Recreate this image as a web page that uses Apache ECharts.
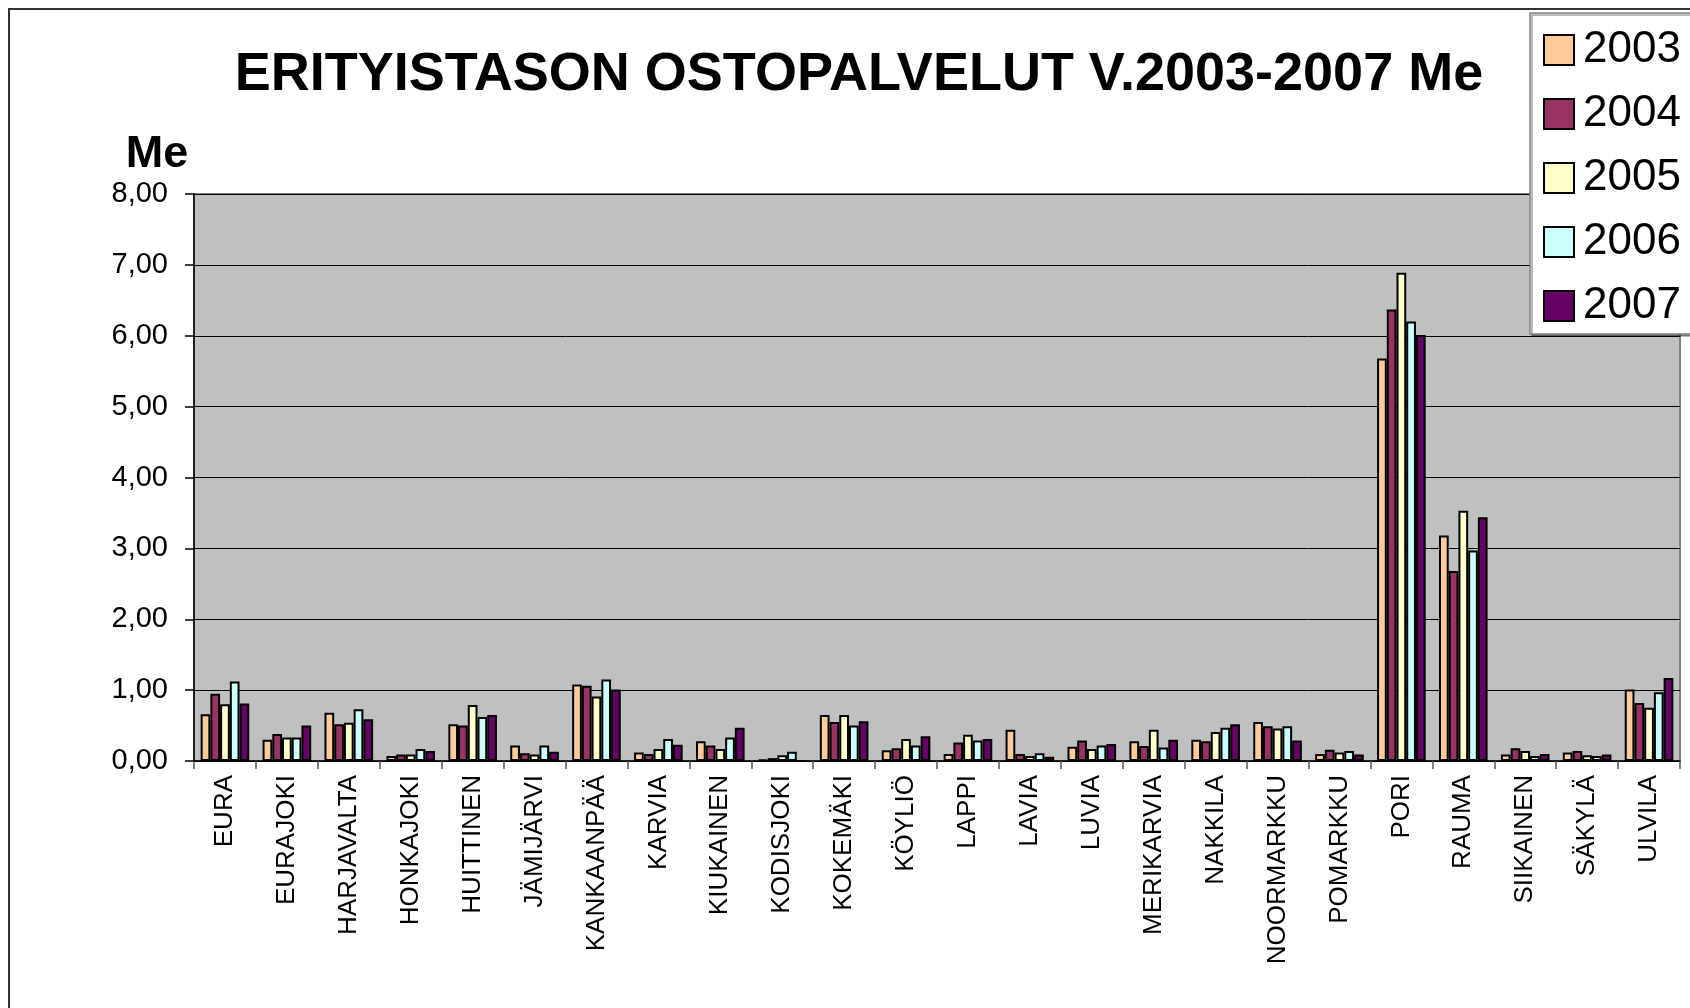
<!DOCTYPE html>
<html>
<head>
<meta charset="utf-8">
<script src="https://cdn.jsdelivr.net/npm/echarts@6/dist/echarts.min.js"></script>
<style>
  html, body { margin: 0; padding: 0; background: #fff; }
  #chart { width: 1690px; height: 1008px; }
</style>
</head>
<body>
<div id="chart"></div>
<script>
// Municipalities (x axis)
const municipalities = [
  'EURA', 'EURAJOKI', 'HARJAVALTA', 'HONKAJOKI', 'HUITTINEN', 'JÄMIJÄRVI',
  'KANKAANPÄÄ', 'KARVIA', 'KIUKAINEN', 'KODISJOKI', 'KOKEMÄKI', 'KÖYLIÖ',
  'LAPPI', 'LAVIA', 'LUVIA', 'MERIKARVIA', 'NAKKILA', 'NOORMARKKU',
  'POMARKKU', 'PORI', 'RAUMA', 'SIIKAINEN', 'SÄKYLÄ', 'ULVILA'
];

// Purchased specialist-level services, million euros per year
const years = ['2003', '2004', '2005', '2006', '2007'];
const v2003 = [0.66, 0.30, 0.68, 0.07, 0.52, 0.22, 1.08, 0.12, 0.28, 0.02, 0.65, 0.15, 0.10, 0.44, 0.20, 0.28, 0.30, 0.55, 0.10, 5.68, 3.18, 0.09, 0.12, 1.01];
const v2004 = [0.95, 0.38, 0.52, 0.09, 0.50, 0.11, 1.06, 0.10, 0.22, 0.04, 0.55, 0.18, 0.26, 0.10, 0.29, 0.21, 0.28, 0.49, 0.16, 6.37, 2.68, 0.18, 0.14, 0.82];
const v2005 = [0.80, 0.33, 0.54, 0.09, 0.79, 0.09, 0.91, 0.17, 0.17, 0.08, 0.65, 0.31, 0.37, 0.07, 0.17, 0.44, 0.41, 0.46, 0.12, 6.89, 3.53, 0.14, 0.08, 0.75];
const v2006 = [1.12, 0.33, 0.73, 0.17, 0.62, 0.22, 1.15, 0.31, 0.33, 0.13, 0.50, 0.22, 0.29, 0.11, 0.22, 0.19, 0.47, 0.49, 0.14, 6.20, 2.97, 0.07, 0.07, 0.97];
const v2007 = [0.81, 0.50, 0.59, 0.14, 0.65, 0.13, 1.01, 0.23, 0.47, 0.00, 0.56, 0.35, 0.31, 0.06, 0.24, 0.30, 0.52, 0.29, 0.09, 6.01, 3.44, 0.10, 0.09, 1.17];
const seriesValues = [v2003, v2004, v2005, v2006, v2007];
const seriesColors = ['#FFCC99', '#993366', '#FFFFCC', '#CCFFFF', '#660066'];

const FONT = '"Liberation Sans", Arial, sans-serif';

const chart = echarts.init(document.getElementById('chart'), null, { renderer: 'canvas' });

chart.setOption({
  animation: false,
  backgroundColor: '#ffffff',
  textStyle: { fontFamily: FONT, color: '#000' },
  graphic: [
    {
      type: 'rect',
      z: -10,
      shape: { x: 9, y: 9, width: 1720, height: 1040 },
      style: { fill: 'none', stroke: '#333', lineWidth: 2 }
    },
    {
      type: 'text',
      x: 859, y: 75,
      style: {
        text: 'ERITYISTASON OSTOPALVELUT V.2003-2007 Me',
        font: 'bold 54px ' + FONT,
        fill: '#000',
        align: 'center',
        verticalAlign: 'middle'
      }
    },
    {
      type: 'text',
      x: 157, y: 155,
      style: {
        text: 'Me',
        font: 'bold 45px ' + FONT,
        fill: '#000',
        align: 'center',
        verticalAlign: 'middle'
      }
    }
  ],
  legend: {
    orient: 'vertical',
    left: 1530,
    top: 13,
    padding: [15, 24, 6, 13],
    itemWidth: 30,
    itemHeight: 30,
    itemGap: 20,
    backgroundColor: '#ffffff',
    borderColor: '#808080',
    borderWidth: 1.5,
    shadowColor: 'rgba(0,0,0,0.35)',
    shadowOffsetX: 2,
    shadowOffsetY: 2,
    icon: 'rect',
    textStyle: {
      fontSize: 44,
      fontFamily: FONT,
      color: '#000',
      padding: [0, 0, 0, 4]
    },
    data: years
  },
  grid: {
    left: 194,
    right: 10,
    top: 194,
    bottom: 247,
    show: true,
    backgroundColor: '#C0C0C0',
    borderColor: '#808080',
    borderWidth: 2,
    containLabel: false
  },
  xAxis: {
    type: 'category',
    data: municipalities,
    axisLine: { show: true, lineStyle: { color: '#000', width: 1.5 } },
    axisTick: { show: true, alignWithLabel: false, length: 8, lineStyle: { color: '#555', width: 1.5 } },
    axisLabel: {
      interval: 0,
      rotate: 90,
      margin: 14,
      fontSize: 26,
      fontFamily: FONT,
      color: '#000'
    }
  },
  yAxis: {
    type: 'value',
    min: 0,
    max: 8,
    interval: 1,
    axisLine: { show: true, lineStyle: { color: '#000', width: 1.5 } },
    axisTick: { show: true, length: 9, lineStyle: { color: '#000', width: 1.5 } },
    splitLine: { show: true, lineStyle: { color: '#000', width: 1 } },
    axisLabel: {
      margin: 26,
      fontSize: 29,
      fontFamily: FONT,
      color: '#000',
      formatter: v => v.toFixed(2).replace('.', ',')
    }
  },
  series: years.map((y, i) => ({
    name: y,
    type: 'bar',
    data: seriesValues[i],
    barGap: '0%',
    barCategoryGap: '21.5%',
    itemStyle: {
      color: seriesColors[i],
      borderColor: '#000',
      borderWidth: 2
    }
  }))
});
</script>
</body>
</html>
